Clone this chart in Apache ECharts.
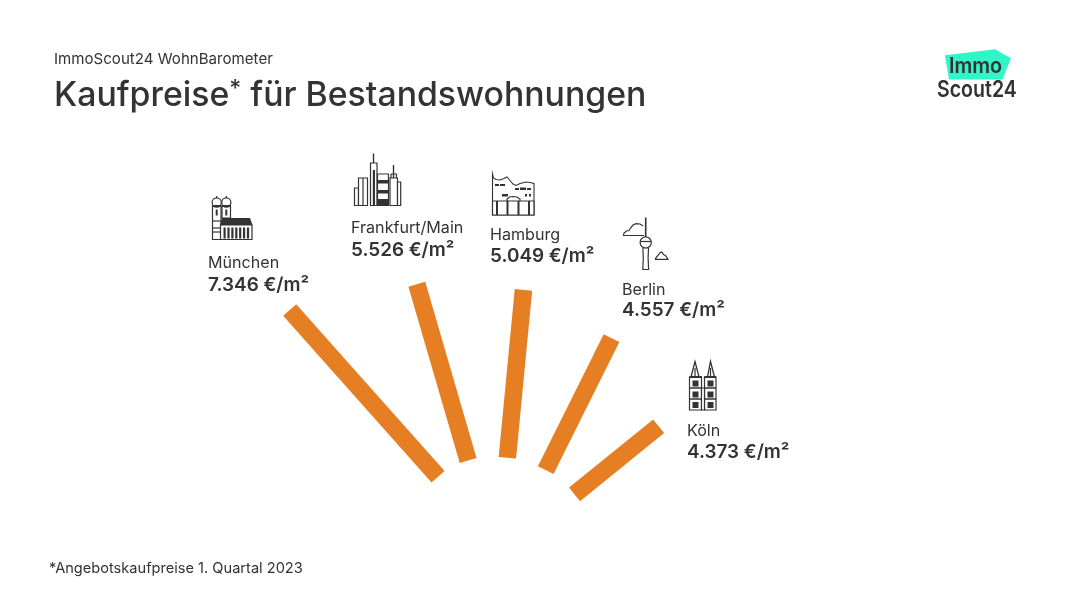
<!DOCTYPE html>
<html>
<head>
<meta charset="utf-8">
<script src="https://cdn.jsdelivr.net/npm/echarts@6/dist/echarts.min.js"></script>
<style>html,body{margin:0;background:#fff}#main{width:1070px;height:602px}</style>
</head>
<body>
<div id="main"></div>
<script>
var cities = ['München', 'Frankfurt/Main', 'Hamburg', 'Berlin', 'Köln'];
var priceLabels = ['7.346 €/m²', '5.526 €/m²', '5.049 €/m²', '4.557 €/m²', '4.373 €/m²'];
// bars as drawn in the picture, they are not quite radial so each end has its own angle
var barStart = [102.2, 102.6, 100.5, 99, 98];
var barEnd = [325.2, 286.1, 269.2, 246.5, 206.2];
var angleStart = [127.3, 108.1, 85.8, 62.5, 40.5];
var angleEnd = [130.3, 106.9, 85, 63.1, 39.7];

var INK = '#333333';
var FONT = 'Inter';

function ln(pts, w) {
  return { type: 'polyline', shape: { points: pts }, style: { stroke: INK, lineWidth: w || 1.2, fill: null } };
}
function box(x, y, w, h, lw) {
  return { type: 'rect', shape: { x: x, y: y, width: w, height: h }, style: { stroke: INK, lineWidth: lw || 1.2, fill: '#fff' } };
}
function solid(x, y, w, h) {
  return { type: 'rect', shape: { x: x, y: y, width: w, height: h }, style: { fill: INK } };
}
function dot(x, y, r) {
  return { type: 'circle', shape: { cx: x, cy: y, r: r }, style: { stroke: INK, lineWidth: 1.2, fill: '#fff' } };
}
function txt(x, y, s, size, weight, sx) {
  return { type: 'text', x: x, y: y, scaleX: sx || 1, style: { text: s, fill: INK, font: weight + ' ' + size + 'px ' + FONT, verticalAlign: 'middle' } };
}

function muenchen() {
  var a = [
    box(212.5, 206, 8.5, 33.5), box(222, 206, 8.5, 12),
    dot(216.7, 202.5, 4.6), dot(226.3, 202.5, 4.6),
    ln([[216.7, 196], [216.7, 198]]), ln([[226.3, 196], [226.3, 198]]),
    ln([[212.5, 206], [221, 206]], 2), ln([[222, 206], [230.5, 206]], 2),
    solid(215.7, 209.5, 2, 6), solid(225.3, 209.5, 2, 6),
    ln([[212.5, 221], [221, 221]]), ln([[212.5, 228], [221, 228]]), ln([[212.5, 232], [221, 232]]),
    { type: 'polygon', shape: { points: [[222, 218], [250, 218], [252.5, 225], [220, 225]] }, style: { fill: INK } },
    box(220.5, 225, 31.5, 14.5)
  ];
  for (var x = 223.5; x < 250; x += 3.9) a.push(solid(x, 227.5, 2.2, 11));
  return a;
}
function frankfurt() {
  return [
    box(354.5, 188, 4, 17.5), box(358.5, 178, 9, 27.5), ln([[363, 178], [363, 205]]),
    ln([[373.5, 153.5], [373.5, 163]], 1.4), box(370.5, 163, 6.5, 42.5),
    solid(372.8, 170, 2.2, 35),
    box(377.5, 174, 11, 31.5),
    solid(377.5, 180, 11, 3.5), solid(377.5, 190, 11, 3.5), solid(377.5, 199, 11, 6),
    ln([[393.5, 165], [393.5, 178]], 1.4), box(390, 178, 7.5, 27.5), ln([[391, 174], [396.5, 174], [396.5, 178]]), ln([[391, 174], [391, 178]]),
    box(397.5, 182, 3.2, 23.5)
  ];
}
function hamburg() {
  return [
    { type: 'polygon', shape: { points: [[492.5, 174], [493.5, 178], [496, 179.5], [500, 180], [504, 178.5], [507, 177], [510, 180.5], [513, 184], [516, 185.5], [520, 183.5], [526, 182], [530, 182.5], [534, 183.5], [534, 215], [492.5, 215]] }, style: { stroke: INK, lineWidth: 1.1, fill: '#fff' } },
    box(492.5, 201, 41.5, 14),
    solid(495, 184, 4, 2), solid(500, 184, 5, 2), solid(515, 188, 4, 2), solid(520, 187.5, 6, 2.5), solid(527, 188, 4, 2),
    solid(502, 194, 6, 2.5), solid(525, 194, 2, 2.5), solid(529, 194, 2, 2.5),
    ln([[507, 201], [507, 199], [509.5, 197], [513, 196.5], [517, 197], [520, 199], [520, 201]]),
    solid(496, 201, 2, 14), solid(506.5, 201, 2, 14), solid(517.5, 201, 2, 14), solid(528, 201, 2, 14)
  ];
}
function berlin() {
  return [
    ln([[645.7, 217.5], [645.7, 237]], 1.6),
    ln([[643, 226], [640, 224], [636, 223.7], [633, 225], [630.5, 228], [629, 230.5], [626.5, 231], [624, 233], [623.5, 235.5], [644, 235.5]]),
    ln([[642.9, 248], [643.3, 258], [642.8, 269.5], [648.6, 269.5], [648.1, 258], [648.5, 248]]),
    dot(645.7, 242.5, 5.6),
    ln([[640.1, 241.5], [651.3, 241.5]]),
    ln([[655, 259.3], [657, 256.5], [658.5, 255], [660, 252.5], [662, 252.2], [663.5, 254.5], [665.5, 255.5], [668, 259.3], [655, 259.3]])
  ];
}
function koeln() {
  var a = [
    ln([[691, 377], [695, 361.5], [699, 377]], 1.3), ln([[707.5, 377], [710.5, 361.5], [714.5, 377]], 1.3),
    ln([[695, 368], [695, 377]]), ln([[710.5, 368], [710.5, 377]]),
    box(689.5, 377, 12, 33), box(704.5, 377, 11.5, 33), box(701.5, 388, 3, 22),
    ln([[689.5, 377], [701.5, 377]], 2), ln([[704.5, 377], [716, 377]], 2)
  ];
  [380.5, 391.5, 402].forEach(function (y) {
    a.push(solid(692.5, y, 6, 6), solid(707.5, y, 6, 6));
  });
  a.push(ln([[689.5, 388], [701.5, 388]], 1.5), ln([[704.5, 388], [716, 388]], 1.5), ln([[689.5, 399], [701.5, 399]], 1.5), ln([[704.5, 399], [716, 399]], 1.5));
  return a;
}

var graphics = [
  txt(54, 59.5, 'ImmoScout24 WohnBarometer', 15.1, 400),
  {
    type: 'text', x: 54, y: 96,
    style: {
      text: 'Kaufpreise{s|*} für Bestandswohnungen', fill: INK, font: '500 33.8px ' + FONT, verticalAlign: 'middle',
      rich: { s: { font: '500 23px ' + FONT, fill: INK, padding: [0, 0, 13, 0] } }
    }
  },
  txt(49, 568.5, '*Angebotskaufpreise 1. Quartal 2023', 14.6, 400),
  { type: 'polygon', shape: { points: [[945, 55.3], [995, 49.3], [1011, 58.3], [1002.5, 79.5], [949, 79.5]] }, style: { fill: '#2ff5c9' } },
  txt(949, 67, 'Immo', 21.5, 600, 0.92),
  txt(937, 90.5, 'Scout24', 23, 600, 0.85)
];

var labelPos = [[208, 263, 285], [351, 228, 250], [490, 235, 256], [622, 290, 310], [687, 431, 452]];
cities.forEach(function (c, i) {
  graphics.push(txt(labelPos[i][0], labelPos[i][1], c, 16.1, 400));
  graphics.push(txt(labelPos[i][0], labelPos[i][2], priceLabels[i], 18.9, 600));
});
[muenchen, frankfurt, hamburg, berlin, koeln].forEach(function (f) {
  graphics = graphics.concat(f());
});

var myChart = echarts.init(document.getElementById('main'));

var option = {
  animation: false,
  backgroundColor: '#fff',
  polar: { center: [500, 558], radius: 400 },
  angleAxis: { type: 'value', min: 0, max: 360, startAngle: 0, clockwise: false, show: false },
  radiusAxis: { type: 'value', min: 0, max: 400, show: false },
  graphic: graphics,
  series: [{
    type: 'custom',
    coordinateSystem: 'polar',
    data: cities.map(function (c, i) { return [barStart[i], angleStart[i], barEnd[i], angleEnd[i]]; }),
    clip: false,
    renderItem: function (params, api) {
      var p0 = api.coord([api.value(0), api.value(1)]);
      var p1 = api.coord([api.value(2), api.value(3)]);
      return {
        type: 'line',
        shape: { x1: p0[0], y1: p0[1], x2: p1[0], y2: p1[1] },
        style: { stroke: '#e67f23', lineWidth: 17.5, lineCap: 'butt' }
      };
    }
  }]
};
myChart.setOption(option);
</script>
</body>
</html>
